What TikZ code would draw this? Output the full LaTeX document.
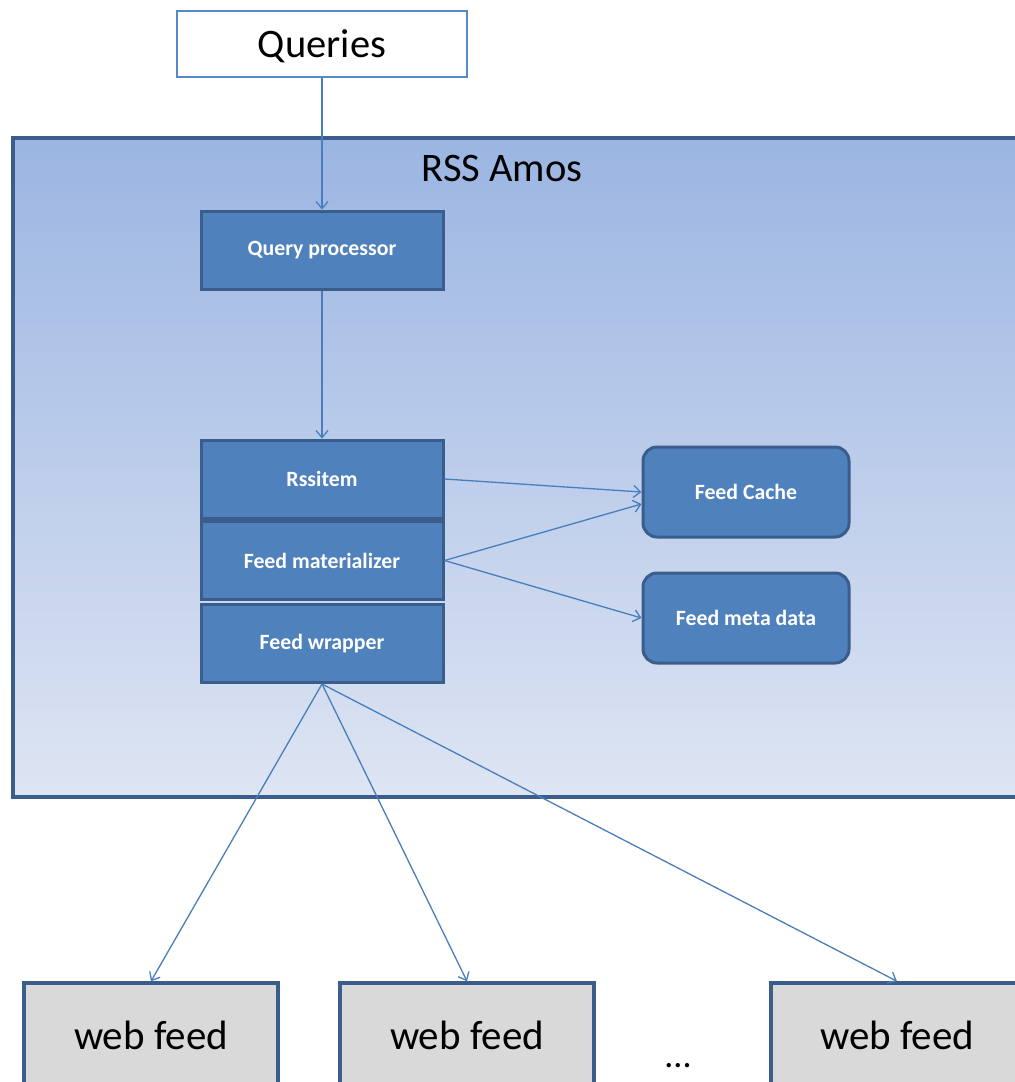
\documentclass[tikz,border=0pt]{standalone}
\usepackage{fontspec}
\setmainfont{Carlito}
\usetikzlibrary{arrows.meta,calc}

\definecolor{edgeblue}{RGB}{58,93,139}
\definecolor{boxblue}{RGB}{79,129,189}
\definecolor{linkblue}{RGB}{74,126,187}
\definecolor{lightrim}{RGB}{85,138,200}
\definecolor{frametop}{RGB}{155,181,226}
\definecolor{framebot}{RGB}{222,229,243}
\definecolor{feedgray}{RGB}{217,217,217}

\tikzset{
  inputbox/.style={draw=lightrim, line width=1.3pt, fill=white,
    minimum width=290pt, minimum height=66pt, inner sep=0pt,
    font=\fontsize{40.5}{46}\selectfont},
  module/.style={draw=edgeblue, line width=3pt, fill=boxblue, text=white,
    minimum width=242pt, minimum height=78pt, inner sep=0pt,
    font=\fontsize{21.8}{25}\selectfont\bfseries},
  store/.style={module, rounded corners=14pt, minimum width=206pt, minimum height=90pt},
  feedbox/.style={draw=edgeblue, line width=3.5pt, fill=feedgray,
    minimum width=254pt, minimum height=104pt, inner sep=0pt,
    font=\fontsize{41}{46}\selectfont},
  conn/.style={draw=linkblue, line width=1.3pt,
    -{Straight Barb[length=7pt,width=12pt]}}
}

\begin{document}
\begin{tikzpicture}[x=1pt,y=-1pt]
\useasboundingbox (0,0) rectangle (1015,1082);
\clip (0,0) rectangle (1015,1082);

% outer system frame
\node[draw=edgeblue, line width=3.5pt, top color=frametop, bottom color=framebot,
      minimum width=1040pt, minimum height=659pt, anchor=north west, inner sep=0pt]
      (amos) at (11,136) {};
\node[font=\fontsize{40.5}{46}\selectfont] (amostitle) at (502,169) {RSS Amos};

% query input
\node[inputbox] (qry) at (322,44) {};
\node[font=\fontsize{40.5}{46}\selectfont] (qrytext) at (322,46) {Queries};

% processing stack
\node[module] (qp)  at (322,250)   {Query processor};
\node[module] (rss) at (322,479)   {Rssitem};
\node[module] (fm)  at (322,560.5) {Feed materializer};
\node[module] (fw)  at (322,643.5) {Feed wrapper};

% storage
\node[store] (cache) at (746,492) {Feed Cache};
\node[store] (meta)  at (746,618) {Feed meta data};

% sources
\node[feedbox] (w1) at (151,1035) {web feed};
\node[feedbox] (w2) at (467,1035) {web feed};
\node[feedbox, minimum width=252pt] (w3) at (897,1035) {web feed};
\node[font=\fontsize{36}{40}\selectfont] (dots) at (678,1066) {...};

% connectors
\draw[conn] (qry.south) -- (qp.north);
\draw[conn] (qp.south) -- (rss.north);
\draw[conn] (rss.east) -- (cache.west);
\draw[conn] (fm.east) -- ($(cache.west)+(0,12)$);
\draw[conn] (fm.east) -- (meta.west);
\draw[conn] (fw.south) -- (w1.north);
\draw[conn] (fw.south) -- (w2.north);
\draw[conn] (fw.south) -- (w3.north);
\end{tikzpicture}
\end{document}
